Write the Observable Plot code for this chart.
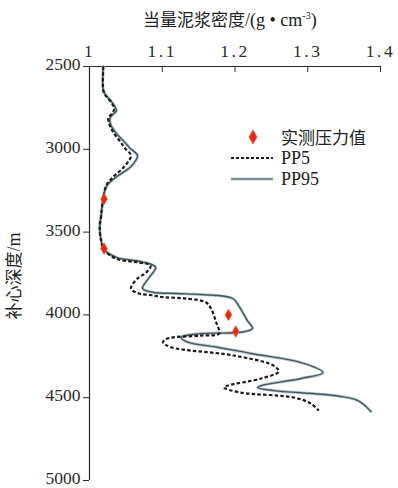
<!DOCTYPE html>
<html>
<head>
<meta charset="utf-8">
<script src="https://cdn.jsdelivr.net/npm/d3@7"></script>
<script src="https://cdn.jsdelivr.net/npm/@observablehq/plot@0.6"></script>
<style>
  html, body { margin: 0; padding: 0; background: #fff; }
  #wrap { position: relative; width: 398px; height: 488px; overflow: hidden; }
  #title { position: absolute; left: 143px; top: 6px; font-family: "Noto Sans CJK SC", sans-serif; font-size: 17px; color: #222; white-space: nowrap; }
  #title .lat { font-family: "Liberation Serif", serif; font-size: 18px; }
  #title sup { font-size: 10px; }
  #ylabel { position: absolute; left: 12px; top: 276px; transform: translate(-50%, -50%) rotate(-90deg); font-family: "Noto Sans CJK SC", sans-serif; font-size: 17px; color: #222; white-space: nowrap; }
  #ylabel .lat { font-family: "Liberation Serif", serif; font-size: 18px; }
  #legend { position: absolute; left: 226px; top: 124px; font-size: 17px; color: #222; }
  .row { position: absolute; left: 0; height: 22px; white-space: nowrap; }
  .row svg { position: absolute; left: 0; top: 0; }
  .row span { position: absolute; left: 55px; top: 0; line-height: 22px; }
  .cjk { font-family: "Noto Sans CJK SC", sans-serif; }
  .ser { font-family: "Liberation Serif", serif; font-size: 18px; }
</style>
</head>
<body>
<div id="wrap">
  <div id="chart"></div>
  <div id="title"></div>
  <div id="ylabel"></div>
  <div id="legend"></div>
</div>
<script>
// ---- data ----
const xTicks = [1, 1.1, 1.2, 1.3, 1.4];
const yTicks = [2500, 3000, 3500, 4000, 4500, 5000];
const xTickLabels = ["1", "1.1", "1.2", "1.3", "1.4"];

const pp5Density = [1.019,1.019,1.022,1.030,1.034,1.031,1.026,1.027,1.032,1.041,1.049,1.057,1.047,1.032,1.023,1.019,1.016,1.014,1.016,1.020,1.036,1.068,1.084,1.078,1.066,1.057,1.068,1.084,1.101,1.130,1.160,1.167,1.174,1.178,1.153,1.107,1.101,1.112,1.198,1.253,1.260,1.236,1.190,1.185,1.208,1.281,1.304,1.315];
const pp5Depth   = [2500,2645,2675,2717,2754,2784,2808,2844,2893,2947,2995,3038,3108,3169,3219,3291,3400,3472,3551,3605,3660,3684,3702,3744,3780,3841,3871,3880,3893,3900,3924,3962,4044,4113,4125,4143,4165,4195,4245,4306,4342,4384,4427,4439,4469,4499,4535,4578];

const pp95Density = [1.019,1.019,1.023,1.031,1.037,1.032,1.028,1.029,1.035,1.046,1.056,1.066,1.057,1.036,1.024,1.019,1.016,1.014,1.016,1.020,1.038,1.071,1.091,1.082,1.073,1.087,1.119,1.153,1.197,1.205,1.217,1.224,1.208,1.153,1.126,1.135,1.176,1.222,1.291,1.321,1.291,1.236,1.231,1.253,1.336,1.369,1.387];
const pp95Depth   = [2500,2645,2675,2717,2766,2790,2814,2850,2893,2947,2995,3038,3104,3170,3219,3291,3400,3472,3551,3605,3654,3678,3712,3774,3841,3863,3871,3877,3901,3944,4034,4082,4105,4113,4135,4165,4195,4233,4288,4348,4384,4427,4439,4457,4487,4517,4584];

const measuredDensity = [1.020, 1.020, 1.191, 1.201];
const measuredDepth   = [3300, 3600, 4000, 4100];

const seriesNames = ["实测压力值", "PP5", "PP95"];
const xLabelCJK = "当量泥浆密度";
const xLabelUnit = "/(g • cm";
const xLabelExp = "-3";
const yLabelCJK = "补心深度";
const yLabelUnit = "/m";

// ---- build tables ----
const pp5 = pp5Density.map((v, i) => ({density: v, depth: pp5Depth[i]}));
const pp95 = pp95Density.map((v, i) => ({density: v, depth: pp95Depth[i]}));
const measured = measuredDensity.map((v, i) => ({density: v, depth: measuredDepth[i]}));

const ink = "#2a2a2a";
const grayLine = "#46565c";
const grayHalo = "#b8c8cd";
const dotRed = "#e8261c";
const serif = "Liberation Serif";

const chart = Plot.plot({
  width: 398,
  height: 488,
  marginLeft: 89,
  marginTop: 66,
  marginRight: 18,
  marginBottom: 8,
  style: {fontFamily: serif, fontSize: "17.5px", color: ink, background: "#fff", overflow: "visible"},
  x: {domain: [1, 1.4], axis: "top", ticks: xTicks, tickFormat: (d, i) => xTickLabels[i], tickSize: 0, tickPadding: 10, label: null},
  y: {domain: [2500, 5000], reverse: true, ticks: yTicks, tickFormat: d => String(d), tickSize: 6, tickPadding: 3, label: null},
  marks: [
    Plot.ruleX([1], {stroke: ink, strokeWidth: 1.2}),
    Plot.ruleY([2500], {stroke: ink, strokeWidth: 1.2}),
    Plot.tickX(xTicks, {x: d => d, stroke: ink, strokeWidth: 1, insetBottom: 408}),
    Plot.line(pp95, {x: "density", y: "depth", curve: "catmull-rom", stroke: grayHalo, strokeWidth: 3}),
    Plot.line(pp95, {x: "density", y: "depth", curve: "catmull-rom", stroke: grayLine, strokeWidth: 1.4}),
    Plot.line(pp5, {x: "density", y: "depth", curve: "catmull-rom", stroke: "#1b1b1b", strokeWidth: 2.2, strokeDasharray: "3.5,2.2", strokeLinecap: "butt"}),
    Plot.dot(measured, {x: "density", y: "depth", symbol: "diamond", r: 3.6, fill: dotRed, stroke: "#f07a2a", strokeWidth: 0.6})
  ]
});
document.getElementById("chart").appendChild(chart);
const svg = d3.select(chart);
svg.selectAll('g[aria-label^="x-axis"] text').style("letter-spacing", "2.5px");
svg.selectAll('g[aria-label^="y-axis"] text').attr("dy", "-0.12em");
svg.selectAll("text").style("font-family", serif);

// ---- titles ----
const t = d3.select("#title");
t.append("span").text(xLabelCJK);
const tu = t.append("span").attr("class", "lat").text(xLabelUnit);
tu.append("sup").text(xLabelExp);
tu.append("span").text(")");
const yl = d3.select("#ylabel");
yl.append("span").text(yLabelCJK);
yl.append("span").attr("class", "lat").text(yLabelUnit);

// ---- legend ----
const legend = d3.select("#legend");
const rows = [
  {name: seriesNames[0], top: 2, cls: "cjk", draw: s => s.append("path").attr("d", d3.symbol(d3.symbolDiamond, 60)()).attr("transform", "translate(27,11)").attr("fill", dotRed).attr("stroke", "#f07a2a").attr("stroke-width", 0.6)},
  {name: seriesNames[1], top: 23, cls: "ser", draw: s => s.append("line").attr("x1", 5).attr("x2", 47).attr("y1", 11).attr("y2", 11).attr("stroke", "#1b1b1b").attr("stroke-width", 2).attr("stroke-dasharray", "3,2")},
  {name: seriesNames[2], top: 44, cls: "ser", draw: s => {
    s.append("line").attr("x1", 5).attr("x2", 47).attr("y1", 11).attr("y2", 11).attr("stroke", grayHalo).attr("stroke-width", 3);
    s.append("line").attr("x1", 5).attr("x2", 47).attr("y1", 11).attr("y2", 11).attr("stroke", grayLine).attr("stroke-width", 1.2);
  }}
];
rows.forEach(r => {
  const row = legend.append("div").attr("class", "row").style("top", r.top + "px");
  const s = row.append("svg").attr("width", 50).attr("height", 22);
  r.draw(s);
  row.append("span").attr("class", r.cls).text(r.name);
});
</script>
</body>
</html>
